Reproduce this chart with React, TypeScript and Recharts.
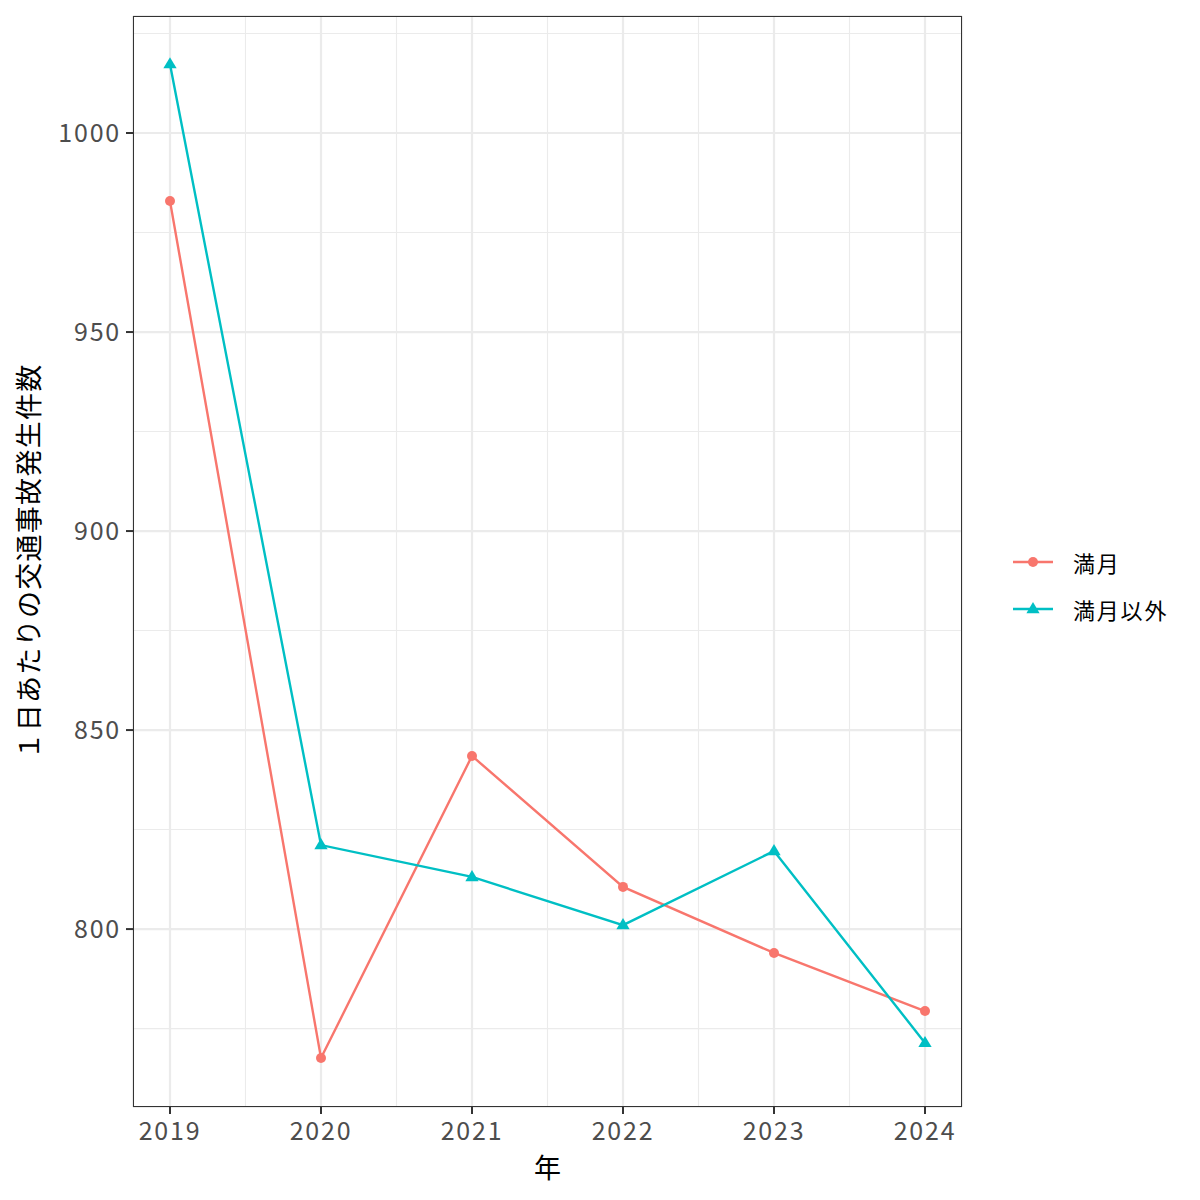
import { LineChart, Line, XAxis, YAxis, CartesianGrid, ReferenceLine } from 'recharts'

const RED = '#F8766D'
const TEAL = '#00BFC4'
const GRID = '#EBEBEB'
const INK = '#4D4D4D'
const FONT = '"Noto Sans CJK JP", "Noto Sans", sans-serif'

const years = [2019, 2020, 2021, 2022, 2023, 2024]
const fullMoon = [982.9, 767.6, 843.5, 810.6, 794.0, 779.4]
const otherDays = [1017.3, 821.1, 813.1, 801.0, 819.6, 771.4]

const yTicks = [800, 850, 900, 950, 1000]
const yMinor = [775, 825, 875, 925, 975, 1025]
const xMinor = [2019.5, 2020.5, 2021.5, 2022.5, 2023.5]

const seriesNames = ['満月', '満月以外']

const data = years.map((y, i) => ({ year: y, fullMoon: fullMoon[i], otherDays: otherDays[i] }))

function Triangle(props: any) {
  const { cx, cy, key } = props
  if (cx == null || cy == null) return null
  const r = 7
  return (
    <polygon key={key} fill={TEAL}
      points={`${cx},${cy - r} ${cx - r * 0.95},${cy + r * 0.6} ${cx + r * 0.95},${cy + r * 0.6}`} />
  )
}

function LegendBox() {
  const items = [
    { name: seriesNames[0], color: RED, shape: 'circle' },
    { name: seriesNames[1], color: TEAL, shape: 'triangle' },
  ]
  return (
    <div style={{ position: 'absolute', left: 1013, top: 538, fontFamily: FONT, fontSize: 22, color: '#000' }}>
      {items.map(it => (
        <div key={it.name} style={{ display: 'flex', alignItems: 'center', height: 47 }}>
          <svg width={40} height={30} style={{ marginRight: 20 }}>
            <line x1={0} y1={15} x2={40} y2={15} stroke={it.color} strokeWidth={2.4} />
            {it.shape === 'circle'
              ? <circle cx={20} cy={15} r={5} fill={it.color} />
              : <polygon fill={it.color} points="20,8 13.4,19.2 26.6,19.2" />}
          </svg>
          <span style={{ letterSpacing: 1.8 }}>{it.name}</span>
        </div>
      ))}
    </div>
  )
}

export default function App() {
  return (
    <div style={{ position: 'absolute', left: 0, top: 0, width: 1200, height: 1200, background: '#fff' }}>
      <LineChart width={1200} height={1200} data={data}
        margin={{ top: 16, right: 238, bottom: 0, left: 0 }}>
        <CartesianGrid stroke={GRID} strokeWidth={2.2} vertical horizontal />
        {yMinor.map(v => (
          <ReferenceLine key={'y' + v} y={v} stroke={GRID} strokeWidth={1.1} ifOverflow="hidden" />
        ))}
        {xMinor.map(v => (
          <ReferenceLine key={'x' + v} x={v} stroke={GRID} strokeWidth={1.1} ifOverflow="hidden" />
        ))}
        <XAxis dataKey="year" type="number" domain={[2018.755, 2024.245]} ticks={years}
          allowDataOverflow height={93} axisLine={false}
          tickLine={{ stroke: '#333', strokeWidth: 2 }} tickSize={7}
          tick={{ fill: INK, fontSize: 25, fontFamily: FONT, letterSpacing: 1.8, dy: 6 }}
          label={{ value: '年', position: 'insideBottom', offset: 22,
            style: { fill: '#000', fontSize: 27, fontFamily: FONT } }} />
        <YAxis type="number" domain={[755.3, 1029.4]} ticks={yTicks} allowDataOverflow
          width={133} axisLine={false}
          tickLine={{ stroke: '#333', strokeWidth: 2 }} tickSize={7}
          tick={{ fill: INK, fontSize: 25, fontFamily: FONT, letterSpacing: 1.8, dx: -3 }}
          label={{ value: '１日あたりの交通事故発生件数', angle: -90, position: 'insideLeft', offset: 29,
            style: { fill: '#000', fontSize: 27, fontFamily: FONT, textAnchor: 'middle', letterSpacing: 1.3 } }} />
        <Line dataKey="fullMoon" name={seriesNames[0]} stroke={RED} strokeWidth={2.4}
          dot={{ r: 5, fill: RED, stroke: RED, strokeWidth: 0 }} activeDot={false}
          isAnimationActive={false} />
        <Line dataKey="otherDays" name={seriesNames[1]} stroke={TEAL} strokeWidth={2.4}
          dot={<Triangle />} activeDot={false} isAnimationActive={false} />
      </LineChart>
      <div style={{ position: 'absolute', left: 133, top: 16, width: 829, height: 1091,
        border: '1.5px solid #333', boxSizing: 'border-box', pointerEvents: 'none' }} />
      <LegendBox />
    </div>
  )
}
